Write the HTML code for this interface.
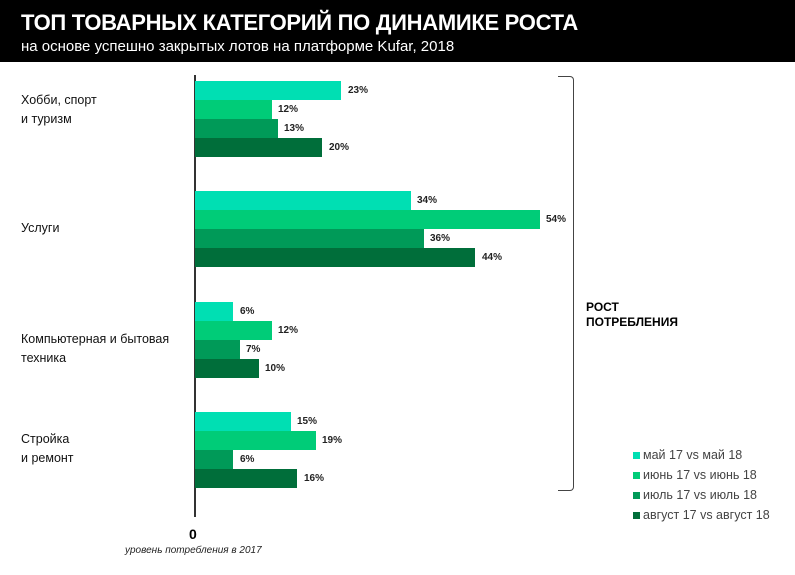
<!DOCTYPE html>
<html><head><meta charset="utf-8"><style>
body{margin:0;width:795px;height:575px;background:#fff;font-family:"Liberation Sans",sans-serif;position:relative;overflow:hidden}
.hd{position:absolute;left:0;top:0;width:795px;height:62px;background:#000;color:#fff}
.t{position:absolute;left:21px;top:10px;font-size:22px;font-weight:bold;letter-spacing:-0.3px}
.s{position:absolute;left:21px;top:38px;font-size:15px}
.b{position:absolute;left:195px;height:19px}
.v{position:absolute;font-size:10px;font-weight:bold;color:#222}
.c{position:absolute;left:21px;font-size:12.5px;color:#111;line-height:19px}
.lg{position:absolute;left:633px;font-size:12.5px;color:#444}
.lg i{display:inline-block;width:7px;height:7px;margin-right:3px}
</style></head><body>
<div class="hd"><div class="t">ТОП ТОВАРНЫХ КАТЕГОРИЙ ПО ДИНАМИКЕ РОСТА</div><div class="s">на основе успешно закрытых лотов на платформе Kufar, 2018</div></div>
<div style="position:absolute;left:194px;top:75px;width:2px;height:442px;background:#333"></div>
<div class="c" style="top:91px">Хобби, спорт<br>и туризм</div>
<div class="c" style="top:219px">Услуги</div>
<div class="c" style="top:330px">Компьютерная и бытовая<br>техника</div>
<div class="c" style="top:430px">Стройка<br>и ремонт</div>

<div class="b" style="top:81px;width:146px;background:#00dfb3"></div><div class="v" style="left:348px;top:85px">23%</div>
<div class="b" style="top:100px;width:77px;background:#00cc78"></div><div class="v" style="left:278px;top:104px">12%</div>
<div class="b" style="top:119px;width:83px;background:#009a58"></div><div class="v" style="left:284px;top:123px">13%</div>
<div class="b" style="top:138px;width:127px;background:#006e3a"></div><div class="v" style="left:329px;top:142px">20%</div>

<div class="b" style="top:191px;width:216px;background:#00dfb3"></div><div class="v" style="left:417px;top:195px">34%</div>
<div class="b" style="top:210px;width:345px;background:#00cc78"></div><div class="v" style="left:546px;top:214px">54%</div>
<div class="b" style="top:229px;width:229px;background:#009a58"></div><div class="v" style="left:430px;top:233px">36%</div>
<div class="b" style="top:248px;width:280px;background:#006e3a"></div><div class="v" style="left:482px;top:252px">44%</div>

<div class="b" style="top:302px;width:38px;background:#00dfb3"></div><div class="v" style="left:240px;top:306px">6%</div>
<div class="b" style="top:321px;width:77px;background:#00cc78"></div><div class="v" style="left:278px;top:325px">12%</div>
<div class="b" style="top:340px;width:45px;background:#009a58"></div><div class="v" style="left:246px;top:344px">7%</div>
<div class="b" style="top:359px;width:64px;background:#006e3a"></div><div class="v" style="left:265px;top:363px">10%</div>

<div class="b" style="top:412px;width:96px;background:#00dfb3"></div><div class="v" style="left:297px;top:416px">15%</div>
<div class="b" style="top:431px;width:121px;background:#00cc78"></div><div class="v" style="left:322px;top:435px">19%</div>
<div class="b" style="top:450px;width:38px;background:#009a58"></div><div class="v" style="left:240px;top:454px">6%</div>
<div class="b" style="top:469px;width:102px;background:#006e3a"></div><div class="v" style="left:304px;top:473px">16%</div>

<div style="position:absolute;left:189px;top:526px;font-size:14px;font-weight:bold">0</div>
<div style="position:absolute;left:125px;top:545px;font-size:10px;font-style:italic;color:#222">уровень потребления в 2017</div>

<div style="position:absolute;left:558px;top:76px;width:15px;height:413px;border:1.5px solid #444;border-left:none;border-radius:0 4px 4px 0"></div>
<div style="position:absolute;left:586px;top:300px;font-size:12px;font-weight:bold;line-height:15px">РОСТ<br>ПОТРЕБЛЕНИЯ</div>

<div class="lg" style="top:448px"><i style="background:#00dfb3"></i>май 17 vs май 18</div>
<div class="lg" style="top:468px"><i style="background:#00cc78"></i>июнь 17 vs июнь 18</div>
<div class="lg" style="top:488px"><i style="background:#009a58"></i>июль 17 vs июль 18</div>
<div class="lg" style="top:508px"><i style="background:#006e3a"></i>август 17 vs август 18</div>
</body></html>
